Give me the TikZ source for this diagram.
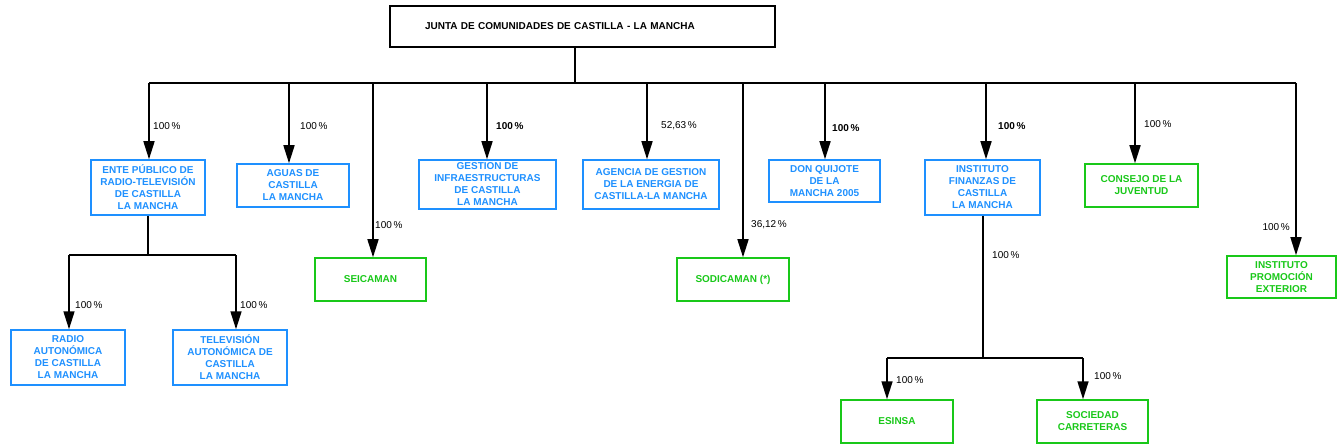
\documentclass[tikz,border=0pt]{standalone}
\usepackage{fontspec}
\setmainfont{Liberation Sans}
\usetikzlibrary{arrows.meta}
\definecolor{orgblue}{RGB}{30,144,255}
\definecolor{firmgreen}{RGB}{25,200,25}

\begin{document}
\begin{tikzpicture}[
      x=1pt, y=-1pt,
      every node/.style={inner sep=0pt,align=center,font=\bfseries\fontsize{10}{12}\selectfont},
      org/.style={draw=orgblue,line width=1.5pt,text=orgblue},
      firm/.style={draw=firmgreen,line width=1.5pt,text=firmgreen},
      pct/.style={anchor=west,font=\fontsize{10}{12}\selectfont},
      pctb/.style={anchor=west},
      wire/.style={line width=1.6pt},
      link/.style={wire,-{Triangle[length=18pt,width=11pt]}}
    ]
      \useasboundingbox (0,0) rectangle (1337,446);

      % Top of the tree
      \node[draw,line width=1.6pt,minimum width=385pt,minimum height=41pt,text width=315pt,align=left]
        (junta) at (582.5,26.5) {JUNTA DE COMUNIDADES DE CASTILLA - LA MANCHA};

      % First level
      \node[org,minimum width=114pt,minimum height=55pt] (ente) at (148,187.5)
        {ENTE PÚBLICO DE\\RADIO-TELEVISIÓN\\DE CASTILLA\\LA MANCHA};
      \node[org,minimum width=112pt,minimum height=43pt] (aguas) at (293,185.5)
        {AGUAS DE\\CASTILLA\\LA MANCHA};
      \node[firm,minimum width=111pt,minimum height=43pt] (seicaman) at (370.5,279.5) {SEICAMAN};
      \node[org,minimum width=137pt,minimum height=49pt] (gestion) at (487.5,184.5)
        {GESTION DE\\INFRAESTRUCTURAS\\DE CASTILLA\\LA MANCHA};
      \node[org,minimum width=136pt,minimum height=49pt] (agencia) at (651,184.5)
        {AGENCIA DE GESTION\\DE LA ENERGIA DE\\CASTILLA-LA MANCHA};
      \node[firm,minimum width=112pt,minimum height=43pt] (sodicaman) at (733,279.5) {SODICAMAN (*)};
      \node[org,minimum width=111pt,minimum height=42pt] (quijote) at (824.5,181)
        {DON QUIJOTE\\DE LA\\MANCHA 2005};
      \node[org,minimum width=115pt,minimum height=55pt] (finanzas) at (982.5,187.5)
        {INSTITUTO\\FINANZAS DE\\CASTILLA\\LA MANCHA};
      \node[firm,minimum width=113pt,minimum height=43pt] (juventud) at (1141.5,185.5)
        {CONSEJO DE LA\\JUVENTUD};
      \node[firm,minimum width=109pt,minimum height=42pt] (exterior) at (1281.5,277)
        {INSTITUTO\\PROMOCIÓN\\EXTERIOR};

      % Second level
      \node[org,minimum width=114pt,minimum height=55pt] (radio) at (68,357.5)
        {RADIO\\AUTONÓMICA\\DE CASTILLA\\LA MANCHA};
      \node[org,minimum width=114pt,minimum height=55pt] (tele) at (230,357.5)
        {TELEVISIÓN\\AUTONÓMICA DE\\CASTILLA\\LA MANCHA};
      \node[firm,minimum width=112pt,minimum height=43pt] (esinsa) at (897,421.5) {ESINSA};
      \node[firm,minimum width=111pt,minimum height=43pt] (carreteras) at (1092.5,421.5)
        {SOCIEDAD\\CARRETERAS};

      % Main bus and the drops to each body
      \coordinate (trunk) at (575,83);
      \draw[wire] (junta.south -| trunk) -- (trunk);
      \foreach \x/\n in {149/ente,289/aguas,373/seicaman,487/gestion,647/agencia,
                         743/sodicaman,825/quijote,986/finanzas,1135/juventud,1296/exterior}{
        \coordinate (top-\n) at (\x,83);
        \draw[link] (top-\n) -- (top-\n |- \n.north);
      }
      \draw[wire] (top-ente) -- (top-exterior);

      % Radio-television branch
      \coordinate (rtv) at (148,255);
      \coordinate (rtv-l) at (69,255);
      \coordinate (rtv-r) at (236,255);
      \draw[wire] (ente.south) -- (rtv);
      \draw[wire] (rtv-l) -- (rtv-r);
      \draw[link] (rtv-l) -- (rtv-l |- radio.north);
      \draw[link] (rtv-r) -- (rtv-r |- tele.north);

      % Finance branch
      \coordinate (ifc) at (983,358);
      \coordinate (ifc-l) at (887,358);
      \coordinate (ifc-r) at (1083,358);
      \draw[wire] (finanzas.south -| ifc) -- (ifc);
      \draw[wire] (ifc-l) -- (ifc-r);
      \draw[link] (ifc-l) -- (ifc-l |- esinsa.north);
      \draw[link] (ifc-r) -- (ifc-r |- carreteras.north);

      % Shares
      \node[pct] (p-ente) at (153,126) {100\,\%};
      \node[pct] (p-aguas) at (300,126) {100\,\%};
      \node[pct] (p-seicaman) at (375,225) {100\,\%};
      \node[pctb] (p-gestion) at (496,126) {100\,\%};
      \node[pct] (p-agencia) at (661,126) {52,63\,\%};
      \node[pct] (p-sodicaman) at (751,225) {36,12\,\%};
      \node[pctb] (p-quijote) at (832,128) {100\,\%};
      \node[pctb] (p-finanzas) at (998,126) {100\,\%};
      \node[pct] (p-juventud) at (1144,124) {100\,\%};
      \node[pct,anchor=east] (p-exterior) at (1290,227) {100\,\%};
      \node[pct] (p-radio) at (75,305) {100\,\%};
      \node[pct] (p-tele) at (240,305) {100\,\%};
      \node[pct] (p-ifc) at (992,255) {100\,\%};
      \node[pct] (p-esinsa) at (896,380) {100\,\%};
      \node[pct] (p-carreteras) at (1094,376) {100\,\%};
    \end{tikzpicture}
\end{document}
